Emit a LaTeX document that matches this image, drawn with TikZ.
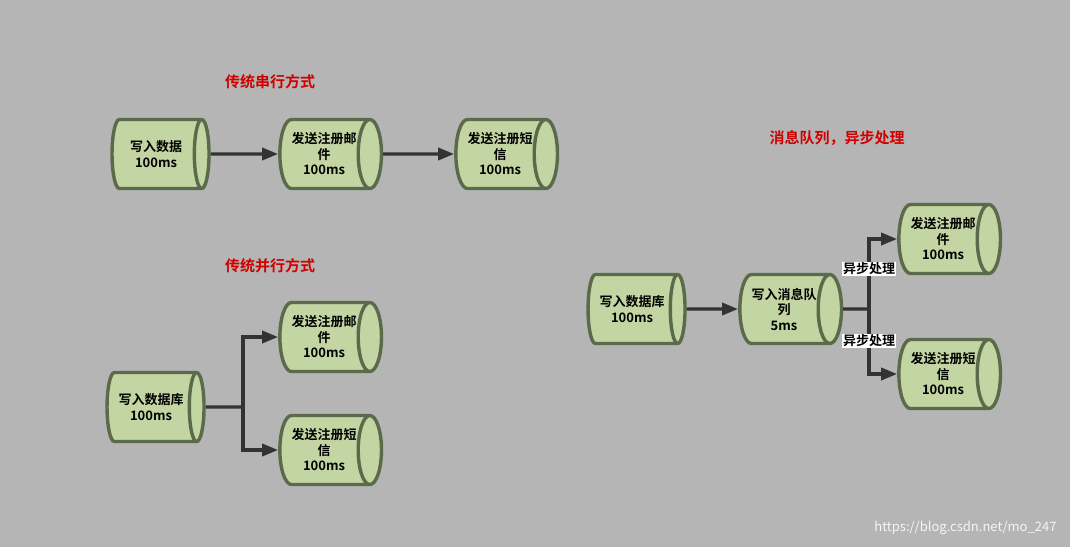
\documentclass[tikz,border=0pt]{standalone}
\usepackage{fontspec}
\setmainfont{Noto Sans CJK SC}[BoldFont={* Bold}]
\usetikzlibrary{shapes.geometric,arrows.meta}
\definecolor{bg}{HTML}{B5B5B5}
\definecolor{cylfill}{HTML}{C2D5A2}
\definecolor{cyldraw}{HTML}{5C6A4C}
\definecolor{arr}{HTML}{333333}
\definecolor{ttl}{HTML}{D00000}
\tikzset{
  x=1pt,y=-1pt,
  db/.style={cylinder,draw=cyldraw,fill=cylfill,line width=3.4pt,minimum width=69pt,minimum height=97pt,aspect=0.55,align=center,font=\bfseries\fontsize{13}{15.5}\selectfont,inner sep=0pt,shape border rotate=0},
  link/.style={draw=arr,line width=3.4pt,-{Triangle[length=16pt,width=12pt]}},
  plain/.style={draw=arr,line width=3.4pt},
  ttlbox/.style={text=ttl,font=\bfseries\fontsize{15}{17}\selectfont},
  lbl/.style={fill=white,inner sep=1pt,font=\bfseries\fontsize{13}{14}\selectfont}
}
\begin{document}
\begin{tikzpicture}
\fill[bg] (0,0) rectangle (1070,547);
\useasboundingbox (0,0) rectangle (1070,547);
\node[ttlbox] (t1) at (270,82) {传统串行方式};
\node[ttlbox] (t2) at (270,266) {传统并行方式};
\node[ttlbox] (t3) at (837,138) {消息队列，异步处理};
% serial
\node[db] (s1) at (156,154) {写入数据\\100ms};
\node[db] (s2) at (324,154) {发送注册邮\\件\\100ms};
\node[db] (s3) at (500,154) {发送注册短\\信\\100ms};
\draw[link] (s1.east) -- (s2.west);
\draw[link] (s2.east) -- (s3.west);
% parallel
\node[db] (p1) at (151,407) {写入数据库\\100ms};
\node[db] (p2) at (324,337) {发送注册邮\\件\\100ms};
\node[db] (p3) at (324,450) {发送注册短\\信\\100ms};
\coordinate (pj) at (243,407);
\draw[plain] (p1.east) -- (pj);
\draw[link] (pj) |- (p2.west);
\draw[link] (pj) |- (p3.west);
% async
\node[db] (a1) at (632,309) {写入数据库\\100ms};
\node[db] (a2) at (784,309) {写入消息队\\列\\5ms};
\node[db] (a3) at (943,239) {发送注册邮\\件\\100ms};
\node[db] (a4) at (943,374) {发送注册短\\信\\100ms};
\draw[link] (a1.east) -- (a2.west);
\coordinate (aj) at (869,309);
\draw[plain] (a2.east) -- (aj);
\draw[link] (aj) |- (a3.west);
\draw[link] (aj) |- (a4.west);
\node[lbl] (l1) at (869,269) {异步处理};
\node[lbl] (l2) at (869,341) {异步处理};
\node[text=white!92!gray,font=\fontsize{13}{15}\selectfont,anchor=east] (wm) at (1060,528) {https://blog.csdn.net/mo\_247};
\end{tikzpicture}
\end{document}
